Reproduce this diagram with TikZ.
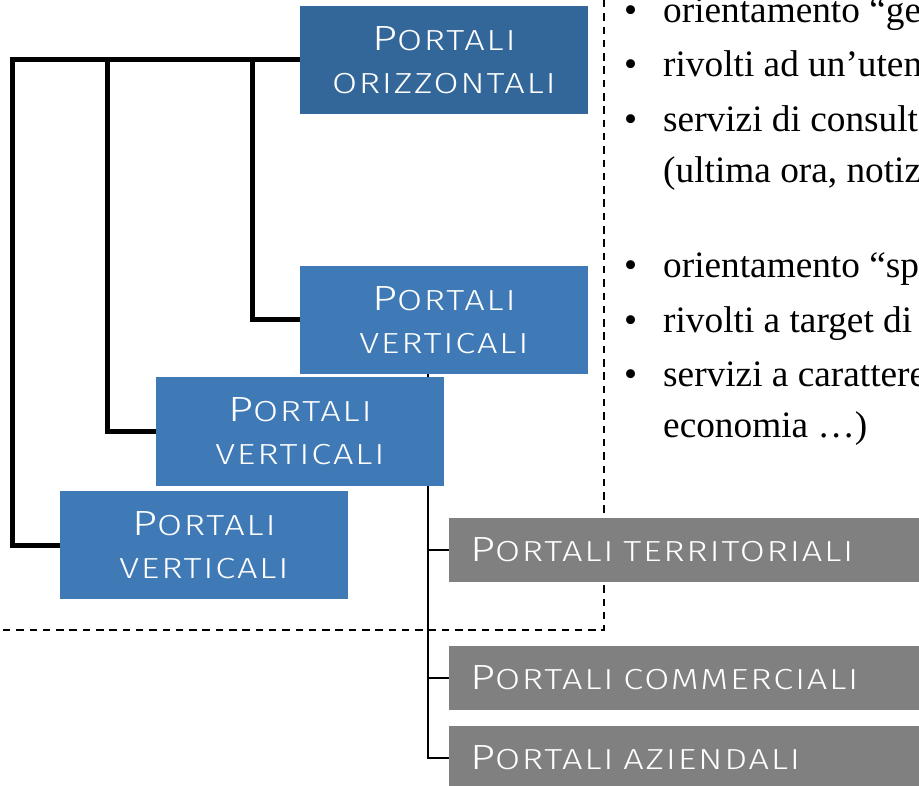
\documentclass[tikz,border=0pt]{standalone}
\usepackage{fontspec}
\setmainfont{Liberation Serif}
\newfontfamily\boxfont[FakeStretch=1.25, LetterSpace=6]{Fira Sans Light}
\usetikzlibrary{backgrounds}

\definecolor{darkblue}{RGB}{52,103,153}
\definecolor{midblue}{RGB}{63,122,183}
\definecolor{boxgrey}{RGB}{128,128,128}

\newcommand{\capP}{{\fontsize{35}{35}\selectfont P}}
\newcommand{\dotline}[1]{\makebox[39pt][l]{\textbullet}#1}

\tikzset{
  bluebox/.style={fill=midblue, text=white, minimum width=288pt, minimum height=108pt,
    inner sep=0pt, align=center, font=\boxfont\fontsize{29}{43}\selectfont},
  greybox/.style={fill=boxgrey, text=white, anchor=west, minimum height=64pt,
    text width=480pt, inner xsep=21pt, inner ysep=0pt, align=left,
    font=\boxfont\fontsize{29}{32}\selectfont},
  textline/.style={anchor=base west, inner sep=0pt, font=\fontsize{37.3}{44}\selectfont},
  treeline/.style={line width=5pt},
  stemline/.style={line width=2pt}
}

\begin{document}
\begin{tikzpicture}[x=1pt, y=-1pt]
    \useasboundingbox (0,0) rectangle (919,786);

    % blue boxes
    \node[bluebox, fill=darkblue] (hor) at (444,60) {\capP ORTALI\\ORIZZONTALI};
    \node[bluebox] (ver1) at (444,320) {\capP ORTALI\\VERTICALI};
    \node[bluebox] (ver2) at (300,431.5) {\capP ORTALI\\VERTICALI};
    \node[bluebox] (ver3) at (204,545) {\capP ORTALI\\VERTICALI};

    % grey boxes
    \node[greybox] (terr) at (449,550) {\capP ORTALI TERRITORIALI};
    \node[greybox] (comm) at (449,678) {\capP ORTALI COMMERCIALI};
    \node[greybox] (azi) at (449,758) {\capP ORTALI AZIENDALI};

    % text on the right
    \node[textline] (gen1) at (624,23) {\dotline{orientamento “ge}};
    \node[textline] (gen2) at (624,77) {\dotline{rivolti ad un’uten}};
    \node[textline] (gen3) at (624,132) {\dotline{servizi di consult}};
    \node[textline] (gen4) at (663,183) {(ultima ora, notiz};
    \node[textline] (spe1) at (624,278) {\dotline{orientamento “sp}};
    \node[textline] (spe2) at (624,333) {\dotline{rivolti a target di}};
    \node[textline] (spe3) at (624,387) {\dotline{servizi a carattere}};
    \node[textline] (spe4) at (663,438) {economia …)};

    \coordinate (k1) at (12,60);
    \coordinate (k2) at (107,60);
    \coordinate (k3) at (252,60);
    \coordinate (stem) at (428,373);

    \begin{scope}[on background layer]
        \draw[treeline] (hor.west) -- (k1) |- (ver3.west);
        \draw[treeline] (k2) |- (ver2.west);
        \draw[treeline] (k3) |- (ver1.west);

        \draw[stemline] (stem) |- (terr.west);
        \draw[stemline] (stem) |- (comm.west);
        \draw[stemline] (stem) |- (azi.west);

        \draw[line width=2pt, dash pattern=on 7.5pt off 5.8pt] (604,0) -- (604,630) -- (0,630);
    \end{scope}

\end{tikzpicture}
\end{document}
